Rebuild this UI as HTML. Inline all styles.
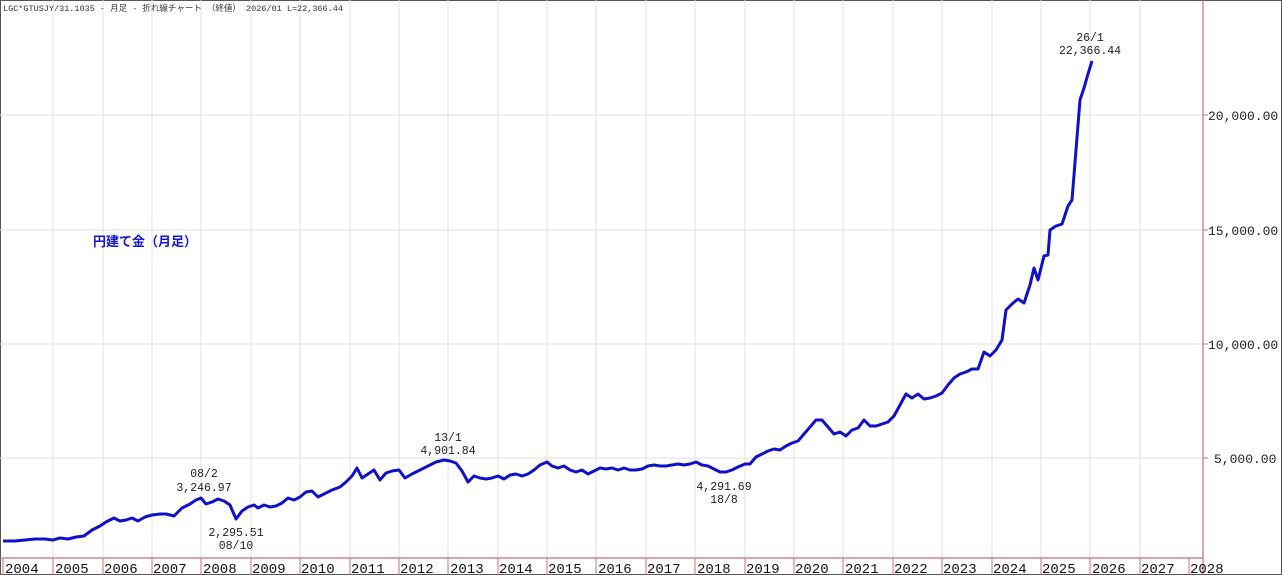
<!DOCTYPE html>
<html><head><meta charset="utf-8"><style>
body{margin:0;background:#fff;}
svg{display:block;font-family:"Liberation Mono","Noto Sans CJK JP",monospace;}
</style></head><body>
<svg width="1282" height="575" viewBox="0 0 1282 575" xmlns="http://www.w3.org/2000/svg">
<rect x="0" y="0" width="1282" height="575" fill="#fff"/>
<rect x="0.5" y="0.5" width="1281" height="574" fill="none" stroke="#555" stroke-width="1"/>
<g stroke="#e2e2e2" stroke-width="1">
<line x1="53" y1="0" x2="53" y2="558"/><line x1="103" y1="0" x2="103" y2="558"/><line x1="152" y1="0" x2="152" y2="558"/><line x1="201" y1="0" x2="201" y2="558"/><line x1="251" y1="0" x2="251" y2="558"/><line x1="300" y1="0" x2="300" y2="558"/><line x1="350" y1="0" x2="350" y2="558"/><line x1="399" y1="0" x2="399" y2="558"/><line x1="448" y1="0" x2="448" y2="558"/><line x1="498" y1="0" x2="498" y2="558"/><line x1="547" y1="0" x2="547" y2="558"/><line x1="596" y1="0" x2="596" y2="558"/><line x1="646" y1="0" x2="646" y2="558"/><line x1="695" y1="0" x2="695" y2="558"/><line x1="745" y1="0" x2="745" y2="558"/><line x1="794" y1="0" x2="794" y2="558"/><line x1="843" y1="0" x2="843" y2="558"/><line x1="893" y1="0" x2="893" y2="558"/><line x1="942" y1="0" x2="942" y2="558"/><line x1="992" y1="0" x2="992" y2="558"/><line x1="1041" y1="0" x2="1041" y2="558"/><line x1="1090" y1="0" x2="1090" y2="558"/><line x1="1140" y1="0" x2="1140" y2="558"/>
<line x1="0" y1="115" x2="1203" y2="115"/><line x1="0" y1="230" x2="1203" y2="230"/><line x1="0" y1="344" x2="1203" y2="344"/><line x1="0" y1="458" x2="1203" y2="458"/>
</g>
<line x1="1203" y1="0" x2="1203" y2="575" stroke="#c87070" stroke-width="1.2"/>
<line x1="0" y1="558" x2="1203" y2="558" stroke="#c87070" stroke-width="1.2"/>
<g stroke="#c87070" stroke-width="1">
<line x1="3" y1="558" x2="3" y2="575"/><line x1="53" y1="558" x2="53" y2="575"/><line x1="103" y1="558" x2="103" y2="575"/><line x1="152" y1="558" x2="152" y2="575"/><line x1="201" y1="558" x2="201" y2="575"/><line x1="251" y1="558" x2="251" y2="575"/><line x1="300" y1="558" x2="300" y2="575"/><line x1="350" y1="558" x2="350" y2="575"/><line x1="399" y1="558" x2="399" y2="575"/><line x1="448" y1="558" x2="448" y2="575"/><line x1="498" y1="558" x2="498" y2="575"/><line x1="547" y1="558" x2="547" y2="575"/><line x1="596" y1="558" x2="596" y2="575"/><line x1="646" y1="558" x2="646" y2="575"/><line x1="695" y1="558" x2="695" y2="575"/><line x1="745" y1="558" x2="745" y2="575"/><line x1="794" y1="558" x2="794" y2="575"/><line x1="843" y1="558" x2="843" y2="575"/><line x1="893" y1="558" x2="893" y2="575"/><line x1="942" y1="558" x2="942" y2="575"/><line x1="992" y1="558" x2="992" y2="575"/><line x1="1041" y1="558" x2="1041" y2="575"/><line x1="1090" y1="558" x2="1090" y2="575"/><line x1="1140" y1="558" x2="1140" y2="575"/><line x1="1189" y1="558" x2="1189" y2="575"/>
<line x1="1203" y1="115" x2="1208" y2="115"/><line x1="1203" y1="230" x2="1208" y2="230"/><line x1="1203" y1="344" x2="1208" y2="344"/><line x1="1203" y1="458" x2="1208" y2="458"/>
</g>
<g font-size="14" fill="#111">
<text x="5" y="573">2004</text><text x="55" y="573">2005</text><text x="104" y="573">2006</text><text x="153" y="573">2007</text><text x="203" y="573">2008</text><text x="252" y="573">2009</text><text x="301" y="573">2010</text><text x="351" y="573">2011</text><text x="400" y="573">2012</text><text x="450" y="573">2013</text><text x="499" y="573">2014</text><text x="548" y="573">2015</text><text x="598" y="573">2016</text><text x="647" y="573">2017</text><text x="697" y="573">2018</text><text x="746" y="573">2019</text><text x="795" y="573">2020</text><text x="845" y="573">2021</text><text x="894" y="573">2022</text><text x="943" y="573">2023</text><text x="993" y="573">2024</text><text x="1042" y="573">2025</text><text x="1092" y="573">2026</text><text x="1141" y="573">2027</text><text x="1190" y="573">2028</text>
</g>
<g font-size="13" fill="#222">
<text x="1208" y="120">20,000.00</text><text x="1208" y="235">15,000.00</text><text x="1208" y="349">10,000.00</text><text x="1214" y="463">5,000.00</text>
</g>
<text x="3" y="11" font-size="8.5" fill="#334">LGC*GTUSJY/31.1035 - 月足 - 折れ線チャート （終値） 2026/01 L=22,366.44</text>
<text x="93" y="246" font-size="13" font-weight="bold" fill="#1515d0" font-family="Liberation Sans,Noto Sans CJK JP,sans-serif">円建て金（月足）</text>
<polyline fill="none" stroke="#1010c8" stroke-width="3" stroke-linejoin="round" points="
3,541 15,541 25,540 35,539 45,539 53,540 60,538 68,539 76,537 84,536 92,530 100,526 106,522 114,518 120,521 126,520 132,518 138,521 145,517 152,515 160,514 166,514 174,516 182,508 190,504 196,500 201,498 206,504 212,502 218,499 224,501 230,505 236,519 242,511 248,507 254,505 258,508 264,505 270,507 276,506 282,503 288,498 294,500 300,497 306,492 312,491 318,497 324,494 332,490 340,487 346,482 352,476 357,468 362,478 368,474 374,470 380,480 386,473 392,471 399,470 405,478 412,474 420,470 428,466 436,462 444,460 450,461 456,463 462,471 468,482 474,476 480,478 486,479 492,478 498,476 504,479 510,475 516,474 522,476 528,474 534,470 540,465 547,462 552,466 558,468 564,466 570,470 576,472 582,470 588,474 594,471 600,468 606,469 612,468 618,470 624,468 630,470 636,470 642,469 648,466 654,465 660,466 666,466 672,465 678,464 684,465 690,464 696,462 702,465 708,466 714,469 720,472 726,472 732,470 738,467 745,464 750,464 756,457 762,454 768,451 774,449 780,450 786,446 792,443 798,441 804,434 810,427 816,420 822,420 828,427 834,434 840,432 846,436 852,430 858,428 864,420 870,426 876,426 882,424 888,422 894,416 900,405 906,394 912,398 918,394 924,399 930,398 936,396 942,393 948,385 954,378 960,374 966,372 972,369 978,369 984,352 990,356 996,350 1002,340 1006,310 1012,304 1018,299 1024,303 1030,285 1034,268 1038,280 1044,256 1048,255 1050,230 1056,226 1062,224 1068,206 1072,200 1076,150 1080,100 1084,88 1088,74 1092,61"/>
<g font-size="11.5" fill="#222" text-anchor="middle">
<text x="204" y="477">08/2</text><text x="204" y="491">3,246.97</text>
<text x="236" y="536">2,295.51</text><text x="236" y="549">08/10</text>
<text x="448" y="441">13/1</text><text x="448" y="454">4,901.84</text>
<text x="724" y="490">4,291.69</text><text x="724" y="503">18/8</text>
<text x="1090" y="41">26/1</text><text x="1090" y="54">22,366.44</text>
</g>
</svg>
</body></html>
